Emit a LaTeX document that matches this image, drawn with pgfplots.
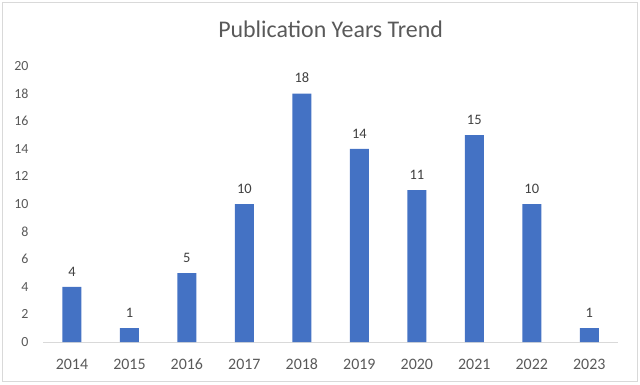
\documentclass[border=0pt]{standalone}
\usepackage{pgfplots}
\pgfplotsset{compat=1.18}
\usepackage{fontspec}
\setmainfont{Carlito}
\definecolor{barblue}{HTML}{4472C4}
\definecolor{txtgray}{HTML}{595959}
\definecolor{lblgray}{HTML}{404040}
\definecolor{axgray}{HTML}{D9D9D9}
\begin{document}
\begin{tikzpicture}[x=1bp,y=1bp]
\path (-43.2,-42) rectangle (596.8,342);
\draw[axgray, line width=0.8bp] (-41.2,-39) rectangle (593.8,340);
\begin{scope}[overlay]
\begin{axis}[
  at={(0,0)}, anchor=south west,
  scale only axis,
  width=574.8bp, height=276bp,
  xmin=-0.5, xmax=9.5,
  ymin=0, ymax=20,
  ytick={0,2,...,20},
  xtick={0,...,9},
  xticklabels={2014,2015,2016,2017,2018,2019,2020,2021,2022,2023},
  axis x line*=bottom,
  axis y line*=left,
  x axis line style={axgray, line width=0.8bp, -},
  y axis line style={draw=none},
  major tick length=0pt,
  tick style={draw=none},
  yticklabel style={font=\fontsize{14}{16}\selectfont, text=txtgray,
    anchor=east, inner sep=0pt, xshift=-14.5bp},
  xticklabel style={font=\fontsize{16}{18}\selectfont, text=txtgray,
    anchor=base, inner sep=0pt, yshift=-27bp},
  title={Publication Years Trend},
  title style={font=\fontsize{24}{28}\selectfont, text=txtgray,
    at={(rel axis cs:0.5,1.082)}, anchor=base, inner sep=0pt},
  /pgf/number format/assume math mode=true,
]
\addplot[ybar, bar width=19bp, fill=barblue, draw=none,
  nodes near coords,
  every node near coord/.style={font=\fontsize{14.5}{17}\selectfont, text=lblgray,
    inner sep=0pt, yshift=10.5bp}]
  coordinates {(0,4) (1,1) (2,5) (3,10) (4,18) (5,14) (6,11) (7,15) (8,10) (9,1)};
\end{axis}
\end{scope}
\end{tikzpicture}
\end{document}
